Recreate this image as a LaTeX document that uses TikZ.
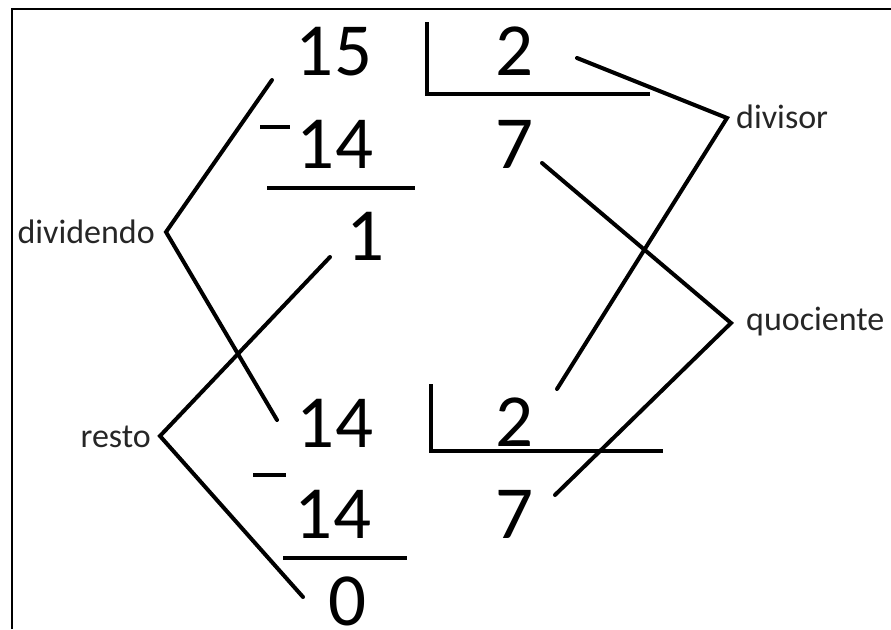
\documentclass[tikz,border=0pt]{standalone}
\usepackage{fontspec}
\setmainfont{Carlito}
\begin{document}
\begin{tikzpicture}[x=1pt,y=-1pt,
  digit/.style={font=\fontsize{75}{75}\selectfont, inner sep=0pt, anchor=base},
  lbl/.style={font=\fontsize{34}{34}\selectfont, inner sep=0pt, text=black!85},
  conn/.style={line width=4pt, line cap=round, line join=miter},
  rule/.style={line width=4pt},
  frame/.style={line width=1.8pt}]
\useasboundingbox (0,0) rectangle (891,629);
% frame
\draw[frame] (12,629) -- (12,9) -- (891,9);
% upper division
\node[digit] (d15) at (334,75) {15};
\node[digit] (dtwoA) at (514,75) {2};
\node[digit] (d14a) at (335,168) {14};
\node[digit] (dsevenA) at (514,168) {7};
\node[digit] (done) at (366,260) {1};
\draw[rule] (427,22) -- (427,94) -- (650,94);
\draw[rule] (260,127) -- (290,127);
\draw[rule] (267,188) -- (415,188);
% lower division
\node[digit] (d14b) at (335,447) {14};
\node[digit] (dtwoB) at (514,446) {2};
\node[digit] (d14c) at (333,538) {14};
\node[digit] (dsevenB) at (514,538) {7};
\node[digit] (dzero) at (348,625) {0};
\draw[rule] (431,384) -- (431,451) -- (663,451);
\draw[rule] (253,475) -- (286,475);
\draw[rule] (283,558) -- (407,558);
% labels
\node[lbl, anchor=base east] (dividendo) at (155,243) {dividendo};
\node[lbl, anchor=base east] (resto) at (151,447) {resto};
\node[lbl, anchor=base west] (divisor) at (736,128) {divisor};
\node[lbl, anchor=base west] (quociente) at (746,330) {quociente};
% vertices and free ends
\coordinate (vDividendo) at (166,232);
\coordinate (vResto) at (160,436);
\coordinate (vDivisor) at (727,118);
\coordinate (vQuociente) at (731,323);
\coordinate (e15) at (272,80);
\coordinate (e14b) at (277,420);
\coordinate (eOne) at (330,257);
\coordinate (eZero) at (303,597);
\coordinate (eTwoA) at (577,58);
\coordinate (eTwoB) at (557,389);
\coordinate (eSevenA) at (542,163);
\coordinate (eSevenB) at (555,495);
% connectors
\draw[conn] (e15) -- (vDividendo) -- (e14b);
\draw[conn] (eOne) -- (vResto) -- (eZero);
\draw[conn] (eTwoA) -- (vDivisor) -- (eTwoB);
\draw[conn] (eSevenA) -- (vQuociente) -- (eSevenB);
\end{tikzpicture}
\end{document}
